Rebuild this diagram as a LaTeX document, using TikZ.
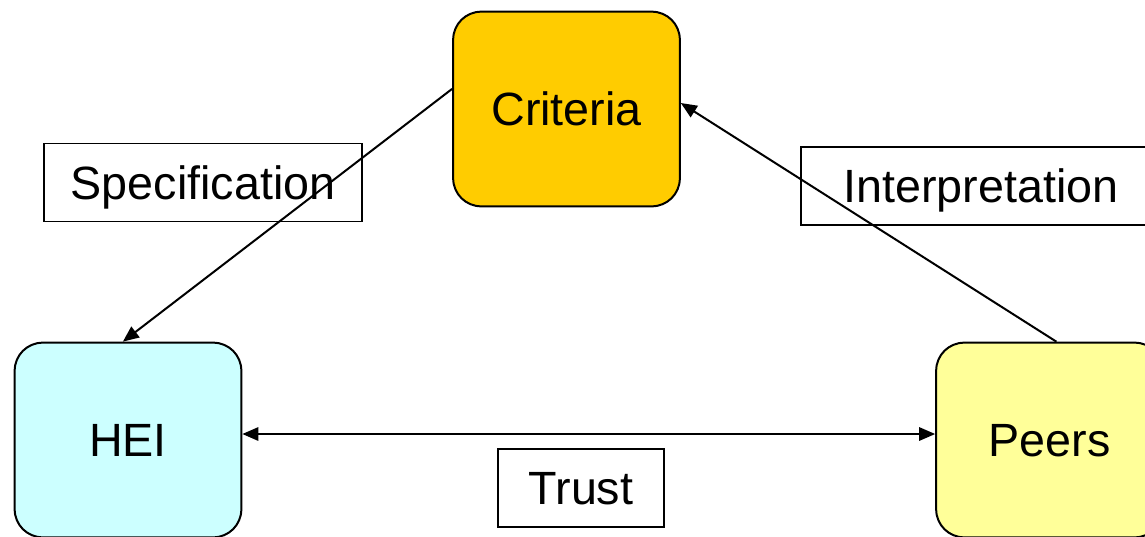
\documentclass[tikz,border=0pt]{standalone}
\usepackage{fontspec}
\setmainfont{Liberation Sans}
\usetikzlibrary{arrows.meta}
\definecolor{critfill}{HTML}{FFCC00}
\definecolor{heifill}{HTML}{CCFFFF}
\definecolor{peerfill}{HTML}{FFFF99}
\begin{document}
\begin{tikzpicture}[x=0.75pt,y=-0.75pt,
  every node/.style={font=\fontsize{35}{42}\selectfont, inner sep=0pt, text depth=0pt},
  party/.style={draw=black, line width=1.5pt, rounded corners=21pt,
    minimum width=170pt, minimum height=146pt},
  tag/.style={draw=black, line width=1.3pt, minimum height=58.5pt},
  tip/.tip={Triangle[length=12pt,width=10pt]},
  link/.style={line width=1.5pt, -tip},
  both/.style={line width=1.5pt, tip-tip}]
\useasboundingbox (0,0) rectangle (1145,536);
% the three parties
\node[party, fill=critfill] (crit) at (566.5,109) {Criteria};
\node[party, fill=heifill] (hei) at (128,440) {HEI};
\node[party, fill=peerfill] (peers) at (1049.5,440) {Peers};
% relation labels
\node[tag, minimum width=238.5pt] (spec) at (203,182.5) {Specification};
\node[tag, minimum width=270.5pt] (interp) at (981,186) {Interpretation};
\node[tag, minimum width=124.5pt] (trust) at (581,488) {Trust};
% connectors
\draw[link] (crit.170) -- (hei.93);
\draw[link] (peers.86) -- (crit.3);
\draw[both] (hei.3) -- (peers.177);
\end{tikzpicture}
\end{document}
